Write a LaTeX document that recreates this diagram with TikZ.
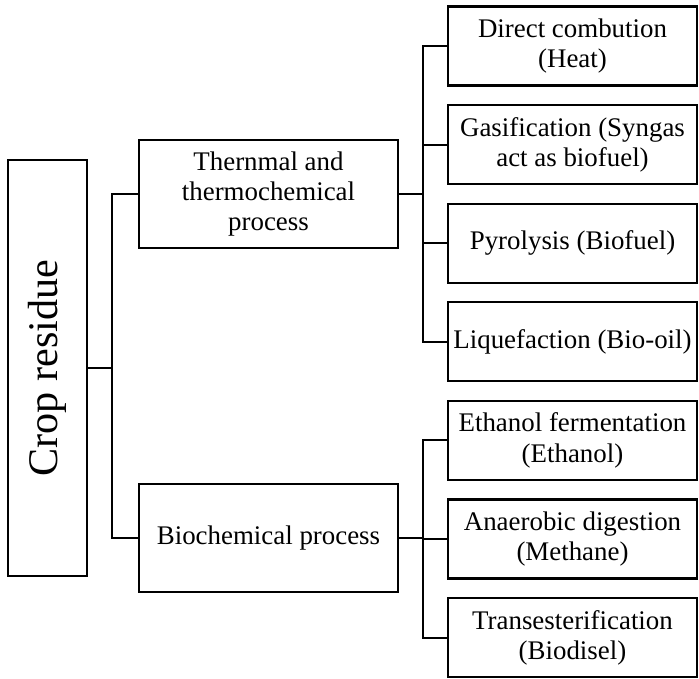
\documentclass[tikz,border=0pt]{standalone}
\usepackage{fontspec}
\setmainfont{Liberation Serif}
\tikzset{
  box/.style={draw, line width=1.2pt, inner sep=2pt, outer sep=0pt, align=center,
    font=\fontsize{15.3}{17.2}\selectfont},
  proc/.style={box, minimum width=5.18cm, minimum height=2.16cm},
  prod/.style={box, minimum width=4.98cm, minimum height=1.58cm},
  link/.style={line width=1.2pt}
}

\begin{document}
\begin{tikzpicture}
\useasboundingbox (0,0) rectangle (13.98,13.56);
% main box, text turned upright
\node[box, minimum width=1.58cm, minimum height=8.32cm, font=\fontsize{24}{28}\selectfont]
  (crop) at (0.95,6.2) {\rotatebox{90}{Crop residue}};
\node[proc] (thermal) at (5.37,9.68) {Thernmal and\\thermochemical\\process};
\node[proc] (bio) at (5.37,2.8) {Biochemical process};
% products, top to bottom
\foreach \i/\t in {1/{Direct combution\\(Heat)},
                   2/{Gasification (Syngas\\act as biofuel)},
                   3/{Pyrolysis (Biofuel)},
                   4/{Liquefaction (Bio-oil)},
                   5/{Ethanol fermentation\\(Ethanol)},
                   6/{Anaerobic digestion\\(Methane)},
                   7/{Transesterification\\(Biodisel)}}
  \node[prod] (r\i) at (11.45,{12.64-(\i-1)*1.972}) {\t};
% connectors
\draw[link] (thermal.west) -- ++(-0.54,0) coordinate (tk) |- (bio.west);
\draw[link] (crop.east) -- (crop.east -| tk);
\draw[link] (thermal.east) -- ++(0.5,0);
\draw[link] (r1.west) -- ++(-0.5,0) |- (r4.west);
\foreach \i in {2,3}
  \draw[link] (r\i.west) -- ++(-0.5,0);
\draw[link] (bio.east) -- ++(0.5,0);
\draw[link] (r5.west) -- ++(-0.5,0) |- (r7.west);
\draw[link] (r6.west) -- ++(-0.5,0);
\end{tikzpicture}
\end{document}
